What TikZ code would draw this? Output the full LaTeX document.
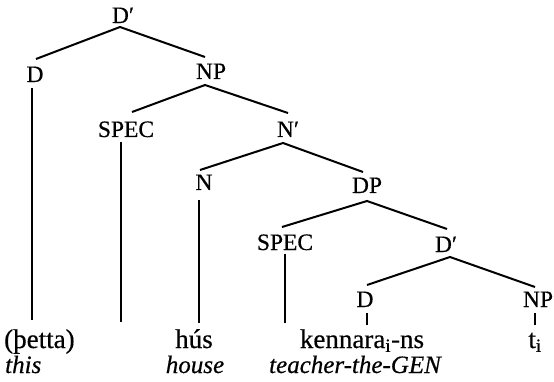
\documentclass[tikz,border=0pt]{standalone}
\usepackage{fontspec}
\setmainfont{Liberation Serif}[FakeBold=0.5]
\begin{document}
\begin{tikzpicture}[x=1pt,y=-1pt,
  lab/.style={inner sep=0pt,anchor=base,font=\fontsize{23.5}{28}\selectfont},
  word/.style={inner sep=0pt,anchor=base,font=\fontsize{27}{32}\selectfont},
  gloss/.style={inner sep=0pt,anchor=base,font=\fontsize{25}{30}\selectfont\itshape},
  br/.style={line width=2pt}]
\useasboundingbox (0,0) rectangle (554,382);
% labels
\node[lab] (Dp1) at (123,23) {D′};
\node[lab] (D1) at (35,82) {D};
\node[lab] (NP1) at (211,79) {NP};
\node[lab] (SPEC1) at (126,137) {SPEC};
\node[lab] (Nb) at (288,137) {N′};
\node[lab] (N) at (204,190) {N};
\node[lab] (DP) at (367,193) {DP};
\node[lab] (SPEC2) at (285,250) {SPEC};
\node[lab] (Dp2) at (446,252) {D′};
\node[lab] (D3) at (365,307) {D};
\node[lab] (NP3) at (538,307) {NP};
% words
\node[word,anchor=base west] (w1) at (4,348) {(þetta)};
\node[word] (w2) at (194,348) {hús};
\node[word] (w3) at (362,348) {kennara\textsubscript{i}-ns};
\node[word] (w4) at (535,348) {t\textsubscript{i}};
\node[gloss,anchor=base west] (g1) at (5,373) {this};
\node[gloss] (g2) at (195,373) {house};
\node[gloss] (g3) at (355,373) {teacher-the-GEN};
% line ends
\coordinate (Dp1-s) at (120,27);
\coordinate (D1-n) at (36,59);
\coordinate (NP1-n) at (205,57);
\coordinate (NP1-s) at (205,85);
\coordinate (SPEC1-n) at (132,112);
\coordinate (Nb-n) at (288,113);
\coordinate (Nb-s) at (283,143);
\coordinate (N-n) at (200,170);
\coordinate (DP-n) at (363,172);
\coordinate (DP-s) at (367,201);
\coordinate (SPEC2-n) at (282,227);
\coordinate (Dp2-n) at (447,229);
\coordinate (Dp2-s) at (450,257);
\coordinate (D3-n) at (367,285);
\coordinate (NP3-n) at (535,287);
\coordinate (D1-s) at (32,88);
\coordinate (w1-n) at (32,320);
\coordinate (SPEC1-s) at (121,142);
\coordinate (SPEC1-e) at (121,322);
\coordinate (N-s) at (199,200);
\coordinate (w2-n) at (199,323);
\coordinate (SPEC2-s) at (285,254);
\coordinate (SPEC2-e) at (285,323);
\coordinate (D3-s) at (367,313);
\coordinate (w3-n) at (367,325);
\coordinate (NP3-s) at (535,313);
\coordinate (w4-n) at (535,325);
% branches
\draw[br] (D1-n) -- (Dp1-s) -- (NP1-n);
\draw[br] (SPEC1-n) -- (NP1-s) -- (Nb-n);
\draw[br] (N-n) -- (Nb-s) -- (DP-n);
\draw[br] (SPEC2-n) -- (DP-s) -- (Dp2-n);
\draw[br] (D3-n) -- (Dp2-s) -- (NP3-n);
\draw[br] (D1-s) -- (w1-n);
\draw[br] (SPEC1-s) -- (SPEC1-e);
\draw[br] (N-s) -- (w2-n);
\draw[br] (SPEC2-s) -- (SPEC2-e);
\draw[br] (D3-s) -- (w3-n);
\draw[br] (NP3-s) -- (w4-n);
\end{tikzpicture}
\end{document}
